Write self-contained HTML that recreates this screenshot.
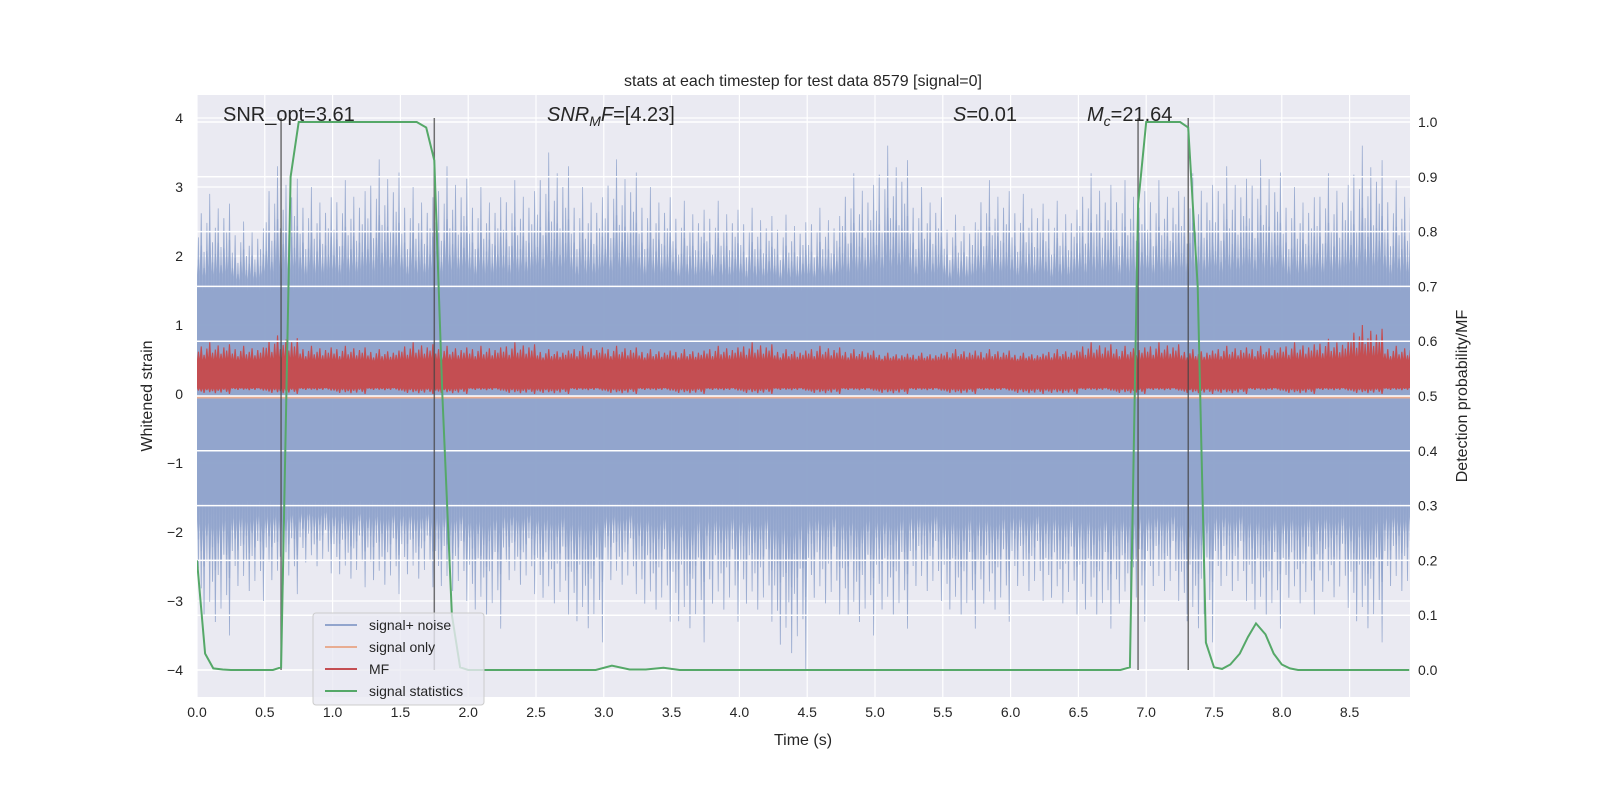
<!DOCTYPE html>
<html><head><meta charset="utf-8"><style>
body{margin:0;background:#fff;}
svg text{font-family:"Liberation Sans","DejaVu Sans",sans-serif;fill:#262626;}
</style></head><body>
<svg id="chart" width="1600" height="800" xmlns="http://www.w3.org/2000/svg">
<defs><clipPath id="pc"><rect x="197" y="95" width="1213" height="602"/></clipPath></defs>
<rect x="0" y="0" width="1600" height="800" fill="#fff"/>
<rect x="197" y="95" width="1213" height="602" fill="#eaeaf2"/>
<g id="gl"></g><g id="noise" clip-path="url(#pc)"></g><g id="mf" clip-path="url(#pc)"></g><g id="gr"></g><g id="marks" clip-path="url(#pc)"></g><g id="axes"></g>
<text x="803" y="86" font-size="16" text-anchor="middle">stats at each timestep for test data 8579 [signal=0]</text>
<text x="223" y="121" font-size="20">SNR_opt=3.61</text>
<text x="547" y="121" font-size="20"><tspan font-style="italic">SNR</tspan><tspan font-style="italic" font-size="14" dy="5">M</tspan><tspan font-style="italic" dy="-5">F</tspan>=[4.23]</text>
<text x="953" y="121" font-size="20"><tspan font-style="italic">S</tspan>=0.01</text>
<text x="1087" y="121" font-size="20"><tspan font-style="italic">M</tspan><tspan font-style="italic" font-size="14" dy="5">c</tspan><tspan dy="-5">=21.64</tspan></text>
<text x="803" y="745" font-size="16" text-anchor="middle">Time (s)</text>
<text transform="translate(152,396) rotate(-90)" font-size="16" text-anchor="middle">Whitened strain</text>
<text transform="translate(1467,396) rotate(-90)" font-size="16" text-anchor="middle">Detection probability/MF</text>
<g>
<rect x="313" y="613" width="171" height="92" rx="3" fill="#eaeaf2" fill-opacity="0.8" stroke="#cccccc"/>
<g><line x1="325" y1="625" x2="357" y2="625" stroke="#92a5cd" stroke-width="2"/><text x="369" y="630" font-size="14">signal+ noise</text></g>
<g><line x1="325" y1="647" x2="357" y2="647" stroke="#e8ac91" stroke-width="2"/><text x="369" y="652" font-size="14">signal only</text></g>
<g><line x1="325" y1="669" x2="357" y2="669" stroke="#c44e52" stroke-width="2"/><text x="369" y="674" font-size="14">MF</text></g>
<g><line x1="325" y1="691" x2="357" y2="691" stroke="#55a868" stroke-width="2"/><text x="369" y="696" font-size="14">signal statistics</text></g>
</g>
</svg>
<script>
const noiseTop=[2.9,2.5,3.3,3.0,3.1,3.4,3.0,3.3,3.0,3.1,3.5,3.0,3.4,3.0,2.8,2.8,2.7,2.6,2.7,3.2,3.6,3.0,2.6,3.1,2.9,2.8,3.2,3.1,3.1,3.2,3.3,3.4,3.0,3.2,3.6,3.1];
const noiseBot=[-3.5,-3.0,-2.9,-2.6,-2.8,-2.9,-2.8,-3.0,-3.4,-2.9,-3.2,-3.6,-2.9,-3.3,-3.6,-3.3,-3.3,-4.0,-3.2,-3.5,-3.4,-3.0,-3.4,-3.3,-3.0,-3.2,-3.4,-3.3,-3.0,-3.6,-3.0,-3.4,-3.2,-3.1,-3.6,-3.0];
const mfTop=[0.75,0.7,0.85,0.7,0.7,0.65,0.75,0.7,0.7,0.75,0.65,0.7,0.7,0.65,0.65,0.7,0.75,0.65,0.7,0.65,0.6,0.6,0.65,0.65,0.6,0.65,0.75,0.7,0.75,0.65,0.7,0.7,0.75,0.8,1.0,0.7];
const mfBot=[0.0,0.05,0.0,0.05,0.0,0.05,0.0,0.0,0.05,0.0,0.0,0.05,0.0,0.05,0.0,0.05,0.0,0.05,0.0,0.05,0.0,0.05,0.0,0.05,0.0,0.0,0.05,0.0,0.05,0.0,0.0,0.05,0.0,0.05,0.0,0.05];
const statT=[0,0.06,0.12,0.19,0.25,0.5,0.56,0.62,0.69,0.75,1.0,1.5,1.62,1.69,1.75,1.81,1.88,1.94,2.0,2.5,2.94,3.06,3.19,3.31,3.44,3.56,6.81,6.88,6.94,7.0,7.25,7.31,7.38,7.44,7.5,7.56,7.62,7.69,7.75,7.81,7.88,7.94,8.0,8.06,8.12,8.94];
const statV=[0.2,0.03,0.003,0.001,0,0,0,0.005,0.9,1.0,1.0,1.0,1.0,0.99,0.93,0.5,0.1,0.005,0,0,0,0.008,0.001,0.001,0.004,0,0,0.005,0.85,1.0,1.0,0.99,0.7,0.05,0.005,0.002,0.01,0.03,0.06,0.085,0.065,0.03,0.01,0.003,0,0];
const vlines=[0.62,1.75,6.94,7.31];
const xTicks=[0,0.5,1,1.5,2,2.5,3,3.5,4,4.5,5,5.5,6,6.5,7,7.5,8,8.5];
const yTicks=[-4,-3,-2,-1,0,1,2,3,4];
const y2Ticks=[0,0.1,0.2,0.3,0.4,0.5,0.6,0.7,0.8,0.9,1.0];
const binW=0.25;
const X=t=>197+t*135.6, Y=v=>394-v*69, Y2=p=>670-p*548;
const NS="http://www.w3.org/2000/svg";
function mk(tag,attrs,parent){const e=document.createElementNS(NS,tag);for(const k in attrs)e.setAttribute(k,attrs[k]);document.getElementById(parent).appendChild(e);return e;}
xTicks.forEach(t=>{const l=mk('line',{x1:X(t),x2:X(t),y1:95,y2:697,stroke:'#fff','stroke-width':1.2},'gl');


const tx=mk('text',{x:X(t),y:717,'font-size':14,'text-anchor':'middle'},'axes');tx.textContent=t.toFixed(1);

});
yTicks.forEach(v=>{const l=mk('line',{x1:197,x2:1410,y1:Y(v),y2:Y(v),stroke:'#fff','stroke-width':1.2},'gl');


const tx=mk('text',{x:183,y:Y(v)+5,'font-size':14,'text-anchor':'end'},'axes');tx.textContent=(v<0?'\u2212'+(-v):v);

});
y2Ticks.forEach(p=>{const l=mk('line',{x1:197,x2:1410,y1:Y2(p),y2:Y2(p),stroke:'#fff','stroke-width':1.5},'gr');


const tx=mk('text',{x:1418,y:Y2(p)+5,'font-size':14},'axes');tx.textContent=p.toFixed(1);

});
const pat=[0.55,0.8,0.4,0.7,1.0,0.5,0.65,0.85,0.45,0.75,0.6,0.9];
function band(tops,bots,coreT,coreB,w){let up=[],dn=[];const n=pat.length;
tops.forEach((v,i)=>{const a=i*binW;pat.forEach((f,j)=>{const xx=X(a+(j+0.5)/n*binW);const h=coreT+(v-coreT)*f;up.push([xx-w,Y(coreT)],[xx-w*0.3,Y(h)],[xx+w*0.3,Y(h)],[xx+w,Y(coreT)]);});});
bots.forEach((v,i)=>{const a=i*binW;pat.forEach((f,j)=>{const xx=X(a+(j+0.5)/n*binW);const h=coreB+(v-coreB)*pat[(j+5)%n];dn.push([xx-w,Y(coreB)],[xx-w*0.3,Y(h)],[xx+w*0.3,Y(h)],[xx+w,Y(coreB)]);});});
up.unshift([X(0),Y(coreT)]);dn.unshift([X(0),Y(coreB)]);
up.push([1410,Y(coreT)]);dn.push([1410,Y(coreB)]);
return up.concat(dn.reverse()).map(p=>p[0].toFixed(1)+','+p[1].toFixed(1)).join(' ');}
const np2=mk('polygon',{points:band(noiseTop.map(v=>1.6+(v-1.6)*0.55),noiseBot.map(v=>-1.65+(v+1.65)*0.55),1.5,-1.55,2.2),fill:'#8ea2cb','fill-opacity':0.75},'noise');


const np=mk('polygon',{points:band(noiseTop,noiseBot,1.5,-1.55,1.4),fill:'#8ea2cb','fill-opacity':0.85},'noise');


const mp=mk('polygon',{points:band(mfTop,mfBot,0.45,0.1,1.8),fill:'#c44e52'},'mf');


const so=mk('line',{x1:X(0),x2:1410,y1:Y(-0.05),y2:Y(-0.05),stroke:'#e8ac91','stroke-width':2},'mf');


vlines.forEach(t=>{const l=mk('line',{x1:X(t),x2:X(t),y1:Y(4),y2:Y(-4),stroke:'#444','stroke-opacity':0.75,'stroke-width':1.5},'marks');

});
const sp=mk('polyline',{points:statT.map((t,i)=>X(t).toFixed(1)+','+Y2(statV[i]).toFixed(1)).join(' '),fill:'none',stroke:'#55a868','stroke-width':2},'marks');


</script>
</body></html>
